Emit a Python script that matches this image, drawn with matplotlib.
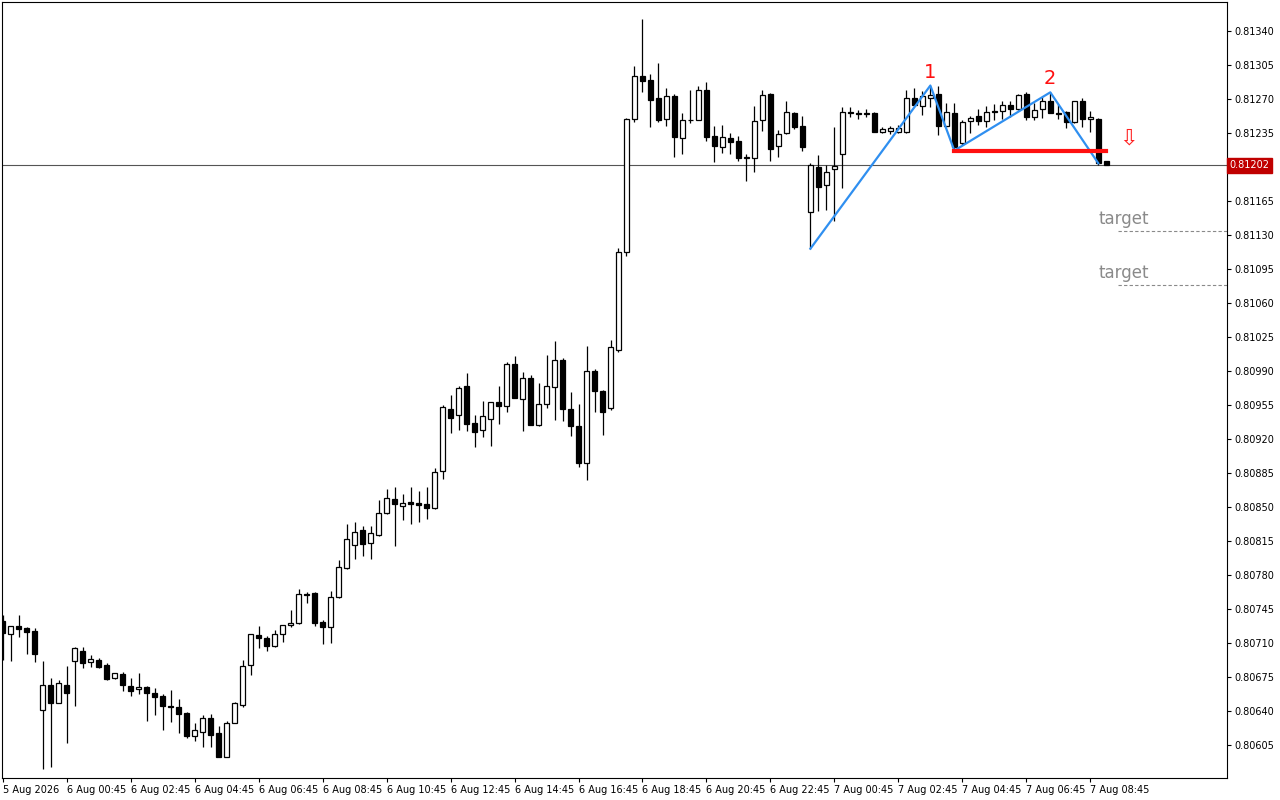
import matplotlib
matplotlib.use("Agg")
import matplotlib.pyplot as plt
import numpy as np

# prices in points (1e-5)
opens = [80733,80719,80727,80725,80722,80641,80667,80648,80667,80691,80702,80690,80693,80687,80674,80678,80666,80663,80665,80659,
 80655,80645,80644,80638,80614,80618,80633,80617,80593,80628,80646,80687,80718,80715,80707,80719,80729,80731,80760,80761,
 80732,80726,80757,80787,80811,80826,80813,80821,80844,80858,80851,80855,80854,80853,80849,80887,80951,80945,80975,80937,
 80929,80941,80958,80954,80997,80961,80983,80934,80956,80974,81001,80951,80933,80895,80990,80969,80952,81012,81113,81250,
 81294,81290,81271,81250,81273,81230,81249,81249,81279,81232,81221,81230,81227,81209,81209,81248,81275,81222,81235,81256,
 81242,81154,81200,81182,81198,81213,81257,81256,81256,81256,81236,81237,81236,81236,81271,81263,81271,81275,81242,81256,
 81225,81247,81253,81247,81258,81258,81264,81260,81275,81252,81260,81268,81256,81257,81246,81268,81250,81250,81206]
highs = [80739,80728,80739,80726,80725,80691,80674,80672,80686,80706,80706,80698,80695,80689,80679,80680,80674,80679,80666,80664,
 80657,80662,80652,80639,80628,80636,80637,80625,80630,80649,80693,80719,80727,80717,80723,80729,80744,80766,80763,80762,
 80734,80764,80795,80833,80835,80830,80830,80857,80869,80871,80863,80871,80866,80871,80890,80955,80965,80975,80988,80945,
 80959,80958,80975,80999,81005,80989,80986,80978,81007,81021,81003,80968,80956,81016,80992,80971,81022,81117,81251,81304,
 81352,81296,81307,81281,81275,81256,81279,81284,81288,81242,81243,81235,81232,81213,81263,81279,81276,81238,81268,81257,
 81253,81204,81212,81202,81241,81262,81262,81259,81260,81257,81241,81242,81243,81279,81281,81278,81284,81284,81266,81266,
 81248,81253,81260,81263,81265,81268,81268,81275,81277,81266,81272,81277,81265,81258,81268,81271,81258,81251,81206]
lows = [80692,80691,80716,80699,80690,80580,80582,80648,80607,80645,80684,80685,80684,80672,80673,80661,80655,80658,80630,80636,
 80620,80629,80617,80612,80609,80603,80603,80593,80593,80628,80644,80677,80705,80702,80706,80711,80726,80730,80751,80727,
 80709,80710,80756,80786,80796,80800,80796,80820,80843,80810,80837,80833,80835,80838,80848,80879,80926,80929,80928,80912,
 80922,80913,80936,80948,80962,80928,80934,80933,80952,80940,80939,80923,80891,80878,80948,80924,80950,81010,81108,81246,
 81277,81241,81246,81242,81210,81213,81245,81248,81227,81205,81215,81214,81206,81186,81195,81237,81206,81210,81234,81239,
 81217,81116,81155,81156,81145,81178,81252,81250,81252,81236,81235,81234,81235,81235,81263,81254,81262,81233,81241,81217,
 81223,81235,81243,81241,81248,81250,81252,81259,81248,81248,81251,81256,81250,81240,81245,81241,81236,81202,81202]
closes = [80720,80728,80724,80721,80699,80667,80648,80669,80659,80705,80689,80694,80685,80673,80679,80667,80661,80665,80659,80654,
 80645,80644,80637,80614,80620,80633,80615,80593,80628,80648,80686,80719,80715,80707,80719,80729,80731,80760,80759,80731,
 80726,80757,80788,80817,80824,80812,80823,80844,80859,80853,80854,80853,80852,80849,80886,80953,80942,80973,80936,80927,
 80944,80958,80954,80997,80962,80983,80934,80956,80975,81001,80951,80933,80895,80990,80969,80948,81015,81113,81250,81294,
 81289,81269,81248,81273,81231,81249,81248,81279,81231,81222,81231,81226,81209,81210,81247,81274,81219,81234,81257,81241,
 81221,81202,81180,81195,81201,81257,81256,81255,81255,81236,81239,81240,81240,81271,81264,81273,81274,81242,81257,81221,
 81246,81251,81247,81257,81257,81264,81260,81274,81252,81259,81268,81256,81255,81246,81268,81250,81252,81204,81202]

x_labels = ["5 Aug 2026", "6 Aug 00:45", "6 Aug 02:45", "6 Aug 04:45", "6 Aug 06:45", "6 Aug 08:45", "6 Aug 10:45",
            "6 Aug 12:45", "6 Aug 14:45", "6 Aug 16:45", "6 Aug 18:45", "6 Aug 20:45", "6 Aug 22:45", "7 Aug 00:45",
            "7 Aug 02:45", "7 Aug 04:45", "7 Aug 06:45", "7 Aug 08:45"]
y_ticks = [0.80605,0.80640,0.80675,0.80710,0.80745,0.80780,0.80815,0.80850,0.80885,0.80920,0.80955,0.80990,
           0.81025,0.81060,0.81095,0.81130,0.81165,0.81200,0.81235,0.81270,0.81305,0.81340]
zz_idx = [101, 116, 119, 131, 137]
zz_price = [81116, 81284, 81217, 81277, 81204]
neck_price = 81217
targets = [81134, 81079]
current = 0.81202

o = np.array(opens)/1e5; h = np.array(highs)/1e5; l = np.array(lows)/1e5; c = np.array(closes)/1e5
n = len(o); xs = np.arange(n)

fig = plt.figure(figsize=(12.8, 8), dpi=100)
ax = fig.add_axes([2/1280, 22/800, 1225/1280, 776/800])
ax.vlines(xs, l, h, color='black', lw=0.9, zorder=2)
up = c >= o
bot = np.minimum(o, c); hgt = np.maximum(np.abs(c-o), 0.000006)
ax.bar(xs[up], hgt[up], bottom=bot[up], width=0.62, facecolor='white', edgecolor='black', lw=0.9, zorder=3)
ax.bar(xs[~up], hgt[~up], bottom=bot[~up], width=0.62, facecolor='black', edgecolor='black', lw=0.9, zorder=3)

ax.axhline(current, color='#555555', lw=0.8, zorder=1)
ax.plot(zz_idx, np.array(zz_price)/1e5, color='#2f8ff0', lw=1.6, zorder=4)
ax.plot([zz_idx[2], n-1], [neck_price/1e5]*2, color='#ff1010', lw=3, zorder=5)
ax.text(zz_idx[1], zz_price[1]/1e5+0.00004, "1", color='#ff1010', fontsize=14, ha='center', va='bottom')
ax.text(zz_idx[3], zz_price[3]/1e5+0.00004, "2", color='#ff1010', fontsize=14, ha='center', va='bottom')
ax.text(140.8, 0.81229, "⇩", color='#ff2020', fontsize=16, ha='center', va='center')
for t in targets:
    ax.text(137, t/1e5+0.00003, "target", color='#8a8a8a', fontsize=12, ha='left', va='bottom')
    ax.plot([139.5, 153.2], [t/1e5]*2, color='#8a8a8a', lw=0.8, ls=(0, (3, 2)))

ax.set_xlim(-0.1, 153.1)
ax.set_ylim(0.80571, 0.81370)
ax.yaxis.tick_right()
ax.set_yticks(y_ticks)
ax.set_yticklabels(["" if abs(v-current) < 0.0001 else f"{v:.5f}" for v in y_ticks], fontsize=7)
ax.set_xticks(np.arange(0, 8*len(x_labels), 8))
ax.set_xticklabels(x_labels, fontsize=7, ha='left')
ax.tick_params(axis='both', length=3, width=0.8, pad=2)
for s in ax.spines.values():
    s.set_linewidth(0.8)
ax.text(1.002, current, f"{current:.5f}", transform=ax.get_yaxis_transform(), fontsize=7, color='white',
        va='center', ha='left', bbox=dict(boxstyle='square,pad=0.25', fc='#c00000', ec='#c00000'))
fig.savefig("out.png", dpi=100)
